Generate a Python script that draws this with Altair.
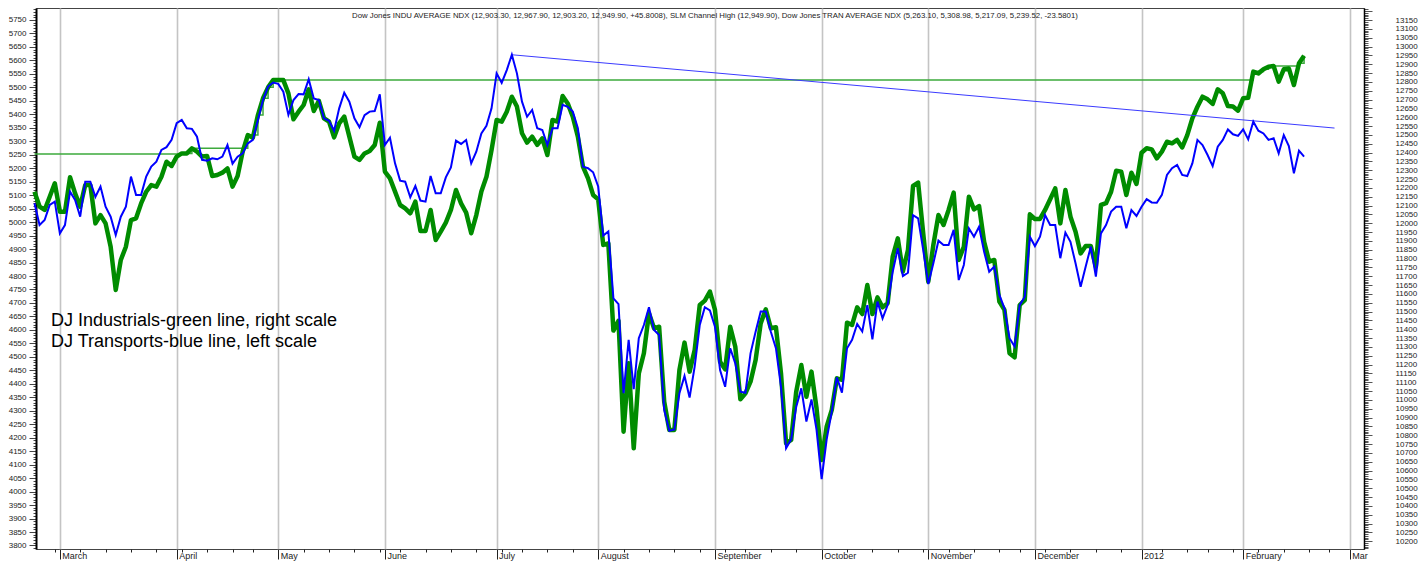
import json
import altair as alt
import pandas as pd

# Dow Jones Transports (left scale), one value per trading day from 22 Feb 2011
trn_close = [
    5070, 4989, 5008, 5064, 5076, 4958, 4989, 5113, 5082, 5020,
    5150, 5150, 5094, 5132, 5057, 5020, 4952, 5020, 5057, 5169,
    5101, 5101, 5169, 5206, 5224, 5268, 5278, 5305, 5367, 5379,
    5348, 5346, 5317, 5231, 5228, 5237, 5233, 5243, 5286, 5217,
    5243, 5255, 5292, 5305, 5379, 5453, 5503, 5518, 5513, 5484,
    5398, 5453, 5475, 5474, 5530, 5459, 5453, 5385, 5376, 5339,
    5422, 5480, 5447, 5385, 5352, 5397, 5410, 5412, 5474, 5286,
    5313, 5218, 5154, 5150, 5092, 5134, 5080, 5076, 5171, 5107,
    5107, 5166, 5203, 5302, 5290, 5305, 5218, 5261, 5329, 5357,
    5422, 5552, 5517, 5564, 5621, 5552, 5447, 5391, 5416, 5348,
    5342, 5286, 5348, 5348, 5435, 5428, 5410, 5348, 5206, 5200,
    5185, 5132, 4950, 4965, 4717, 4696, 4365, 4563, 4380, 4569,
    4618, 4684, 4600, 4581, 4303, 4226, 4231, 4365, 4429, 4349,
    4464, 4618, 4684, 4672, 4612, 4451, 4389, 4532, 4476, 4371,
    4367, 4513, 4593, 4668, 4668, 4593, 4532, 4389, 4161, 4194,
    4315, 4383, 4260, 4342, 4229, 4046, 4195, 4297, 4424, 4367,
    4532, 4563, 4622, 4594, 4692, 4565, 4705, 4643, 4692, 4816,
    4903, 4800, 4812, 5026, 5014, 4897, 4770, 4847, 4931, 4915,
    4915, 4971, 4785, 4841, 4977, 4946, 4983, 4890, 4816, 4835,
    4730, 4680, 4569, 4538, 4692, 4723, 4946, 4911, 4946, 5026,
    4989, 4989, 4866, 4961, 4927, 4847, 4760, 4835, 4909, 4798,
    4958, 4989, 5039, 5057, 5057, 4977, 5045, 5023, 5057, 5085,
    5073, 5072, 5101, 5175, 5200, 5212, 5175, 5171, 5218, 5305,
    5286, 5249, 5208, 5280, 5305, 5344, 5326, 5320, 5344, 5307,
    5373, 5339, 5329, 5305, 5311, 5255, 5323, 5282, 5181, 5265,
    5243,
]

# Dow Jones Industrials (right scale)
ind_close = [
    12178, 12094, 12075, 12150, 12226, 12065, 12065, 12260, 12169, 12094,
    12216, 12216, 11999, 12046, 11999, 11867, 11622, 11792, 11867, 12018,
    12028, 12112, 12178, 12216, 12207, 12263, 12348, 12324, 12377, 12395,
    12395, 12424, 12405, 12377, 12380, 12267, 12273, 12286, 12310, 12207,
    12267, 12405, 12499, 12484, 12612, 12707, 12769, 12810, 12810, 12810,
    12735, 12588, 12631, 12669, 12758, 12635, 12693, 12594, 12575, 12486,
    12565, 12603, 12490, 12377, 12358, 12395, 12409, 12443, 12569, 12292,
    12254, 12179, 12103, 12084, 12056, 12122, 11956, 11956, 12075, 11905,
    11952, 12003, 12075, 12188, 12112, 12060, 11943, 12046, 12179, 12263,
    12414, 12584, 12575, 12631, 12716, 12660, 12509, 12456, 12490, 12443,
    12480, 12386, 12584, 12575, 12720, 12678, 12603, 12490, 12320, 12254,
    12160, 12135, 11877, 11886, 11392, 11448, 10820, 11207, 10726, 11150,
    11264, 11490, 11405, 11414, 10990, 10830, 10830, 11169, 11324, 11160,
    11282, 11537, 11562, 11613, 11509, 11216, 11173, 11414, 11301, 11003,
    11037, 11103, 11226, 11433, 11513, 11405, 11411, 11150, 10754, 10773,
    11047, 11197, 11018, 11160, 10952, 10660, 10850, 10943, 11122, 11113,
    11437, 11424, 11524, 11486, 11650, 11486, 11580, 11524, 11547, 11811,
    11914, 11726, 11848, 12211, 12230, 11943, 11669, 11877, 12046, 11990,
    12075, 12173, 11792, 11867, 12150, 12078, 12097, 11895, 11782, 11792,
    11556, 11509, 11264, 11241, 11537, 11565, 12050, 12024, 12024, 12075,
    12135, 12197, 11999, 12188, 12037, 11952, 11829, 11871, 11871, 11754,
    12103, 12113, 12178, 12297, 12292, 12160, 12286, 12222, 12399, 12424,
    12418, 12367, 12405, 12461, 12452, 12471, 12429, 12499, 12593, 12659,
    12716, 12701, 12675, 12758, 12735, 12663, 12660, 12637, 12707, 12710,
    12858, 12848, 12871, 12886, 12890, 12801, 12871, 12876, 12782, 12905,
    12948,
]

# SLM channel high (industrials), step changes
chan_day = [0, 29, 31, 42, 44, 45, 46, 47, 240, 242, 243, 244, 249, 250]
chan_val = [12391, 12395, 12424, 12499, 12612, 12707, 12769, 12810,
            12858, 12871, 12886, 12890, 12905, 12948]

# Transports trend line from the July high
trend_day = [94, 256]
trend_val = [5621, 5349]

# x axis: month starts and week starts (trading-day index)
month_pos = [5, 28, 48, 69, 91, 111, 134, 155, 176, 197, 218, 238, 259]
month_lab = ["March", "April", "May", "June", "July", "August", "September",
             "October", "November", "December", "2012", "February", "Mar"]
week_pos = [4, 9, 14, 19, 24, 29, 34, 39, 43, 48, 53, 58, 63, 68, 72, 77, 82,
            87, 92, 96, 101, 106, 111, 116, 121, 126, 131, 136, 140, 145, 150,
            155, 160, 165, 170, 175, 180, 185, 190, 194, 199, 204, 209, 214,
            218, 222, 227, 231, 236, 241, 246, 251, 255]
left_ticks = list(range(3790, 5800, 10))
right_ticks = list(range(10160, 13220, 10))
left_label_max = 5750
right_label_max = 13150

title_text = ("Dow Jones INDU AVERAGE NDX (12,903.30, 12,967.90, 12,903.20, "
              "12,949.90, +45.8008), SLM Channel High (12,949.90), Dow Jones "
              "TRAN AVERAGE NDX (5,263.10, 5,308.98, 5,217.09, 5,239.52, -23.5801)")
legend_lines = ["DJ Industrials-green line, right scale",
                "DJ Transports-blue line, left scale"]

FONT = "Liberation Sans"

df_trn = pd.DataFrame({"day": list(range(len(trn_close))), "v": trn_close})
df_ind = pd.DataFrame({"day": list(range(len(ind_close))), "v": ind_close})
df_chan = pd.DataFrame({"day": chan_day, "v": chan_val})
df_trend = pd.DataFrame({"day": trend_day, "v": trend_val})

x_ticks = sorted(set(month_pos + week_pos))
is_month = f"indexof({month_pos}, datum.value) >= 0"

x_axis = alt.Axis(
    orient="bottom", values=x_ticks, title=None, domain=False,
    labelExpr=f"{is_month} ? {json.dumps(month_lab)}[indexof({month_pos}, datum.value)] : ''",
    labelAlign="left", labelBaseline="top", labelOffset=2, labelPadding=-8,
    labelFontSize=9, labelFont=FONT, labelColor="#222",
    labelFlush=False, labelOverlap=False,
    tickSize={"condition": {"test": is_month, "value": 10}, "value": 3},
    tickColor="#222", tickWidth=1,
    grid=True, gridColor="#c4c4c4", gridWidth=1.6,
    gridOpacity={"condition": {"test": is_month, "value": 1}, "value": 0},
)
X = alt.X("day:Q", scale=alt.Scale(domain=[0.3, 261.8], nice=False, zero=False),
          axis=x_axis)

major = "datum.value % 50 === 0"
left_axis = alt.Axis(
    orient="left", values=left_ticks, title=None, grid=False, format="d",
    labelExpr=f"{major} && datum.value <= {left_label_max} ? datum.label : ''",
    labelOverlap=False,
    labelFontSize=8, labelFont=FONT, labelColor="#222", labelPadding=3,
    tickSize={"condition": {"test": major, "value": 7}, "value": 3},
    tickColor="#444", tickWidth=1, domainColor="#000", domainWidth=2,
)
right_axis = alt.Axis(
    orient="right", values=right_ticks, title=None, grid=False, format="d",
    labelExpr=f"{major} && datum.value <= {right_label_max} ? datum.label : ''",
    labelOverlap=False,
    labelFontSize=8, labelFont=FONT, labelColor="#222", labelPadding=23,
    tickSize={"condition": {"test": major, "value": 8}, "value": 4},
    tickColor="#555", tickWidth=1, domainColor="#000", domainWidth=1.5,
)
YL = alt.Y("v:Q", scale=alt.Scale(domain=[3787, 5794.5], nice=False, zero=False),
           axis=left_axis)
YR = alt.Y("v:Q", scale=alt.Scale(domain=[10156, 13218], nice=False, zero=False),
           axis=right_axis)

green_chan = alt.Chart(df_chan).mark_line(
    color="#3daa3d", strokeWidth=1.5, interpolate="step-after"
).encode(x=X, y=YR)
green_line = alt.Chart(df_ind).mark_line(
    color="#008c00", strokeWidth=4.5, strokeJoin="round"
).encode(x=X, y=YR)

trend = alt.Chart(df_trend).mark_line(color="#3b3bff", strokeWidth=1).encode(x=X, y=YL)
blue_line = alt.Chart(df_trn).mark_line(color="#0000ff", strokeWidth=2).encode(x=X, y=YL)

t_title = alt.Chart(pd.DataFrame({"t": [title_text]})).mark_text(
    font=FONT, fontSize=7.8, color="#222", align="center", baseline="middle"
).encode(text="t:N", x=alt.value(679), y=alt.value(8))
t_leg1 = alt.Chart(pd.DataFrame({"t": [legend_lines[0]]})).mark_text(
    font=FONT, fontSize=18, color="#000", align="left", baseline="alphabetic"
).encode(text="t:N", x=alt.value(15), y=alt.value(318))
t_leg2 = alt.Chart(pd.DataFrame({"t": [legend_lines[1]]})).mark_text(
    font=FONT, fontSize=18, color="#000", align="left", baseline="alphabetic"
).encode(text="t:N", x=alt.value(15), y=alt.value(339))

right_grp = alt.layer(green_chan, green_line)
left_grp = alt.layer(trend, blue_line, t_title, t_leg1, t_leg2)

chart = alt.layer(right_grp, left_grp).resolve_scale(y="independent").properties(
    width=1328, height=541, background="white",
    autosize=alt.AutoSizeParams(type="none"),
    padding={"left": 28, "top": 0, "right": 55, "bottom": 13},
).configure_view(stroke="#444", strokeWidth=1)

chart.save("out.html", embed_options={"renderer": "svg", "actions": False})
